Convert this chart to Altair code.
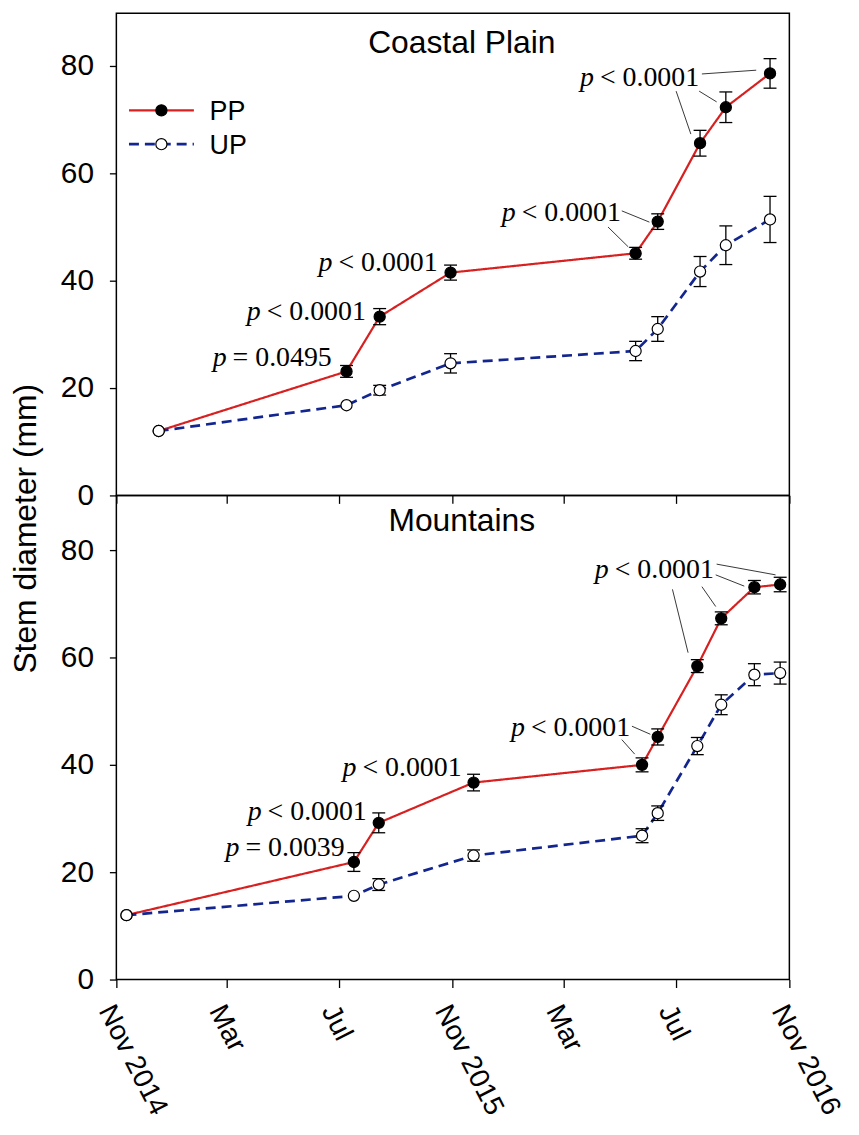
import json
import altair as alt
import pandas as pd

# ---------------- data ----------------
series_names = ["PP", "UP"]
line_colors = ["#d82020", "#13268f"]
line_widths = [2.2, 2.7]
point_fills = ["black", "white"]
dash_styles = [[1, 0], [10, 6]]

panel_titles = ["Coastal Plain", "Mountains"]
y_title = "Stem diameter (mm)"
y_ticks = [0, 20, 40, 60, 80]

tick_dates = ["2014-11-01", "2015-03-01", "2015-07-01", "2015-11-01",
              "2016-03-01", "2016-07-01", "2016-11-01"]
tick_labels = ["Nov 2014", "Mar", "Jul", "Nov 2015", "Mar", "Jul", "Nov 2016"]

# Coastal Plain
cp_dates = ["2014-12-17", "2015-07-09", "2015-08-14", "2015-10-30", "2016-05-18",
            "2016-06-11", "2016-07-27", "2016-08-24", "2016-10-11"]
cp_pp = [12.0, 23.1, 33.3, 41.5, 45.1, 51.0, 65.6, 72.3, 78.6]
cp_pp_se = [0.0, 1.1, 1.5, 1.4, 1.1, 1.45, 2.4, 2.85, 2.75]
cp_up = [12.0, 16.8, 19.6, 24.6, 26.9, 31.0, 41.7, 46.6, 51.4]
cp_up_se = [0.0, 0.0, 0.9, 1.8, 1.8, 2.3, 2.8, 3.6, 4.3]

cp_ann_dates = ["2015-03-04", "2015-04-10", "2015-06-27", "2016-01-12", "2016-04-06"]
cp_ann_vals = [24.1, 32.7, 41.8, 51.2, 76.2]
cp_ann_texts = ["= 0.0495", "< 0.0001", "< 0.0001", "< 0.0001", "< 0.0001"]

cp_lead_d1 = ["2016-05-03", "2016-04-18", "2016-07-29", "2016-07-26", "2016-07-01"]
cp_lead_v1 = [53.0, 50.0, 78.5, 75.3, 75.3]
cp_lead_d2 = ["2016-06-02", "2016-05-10", "2016-09-26", "2016-08-14", "2016-07-17"]
cp_lead_v2 = [50.9, 46.3, 79.2, 73.3, 67.3]

# Mountains
mt_dates = ["2014-11-12", "2015-07-17", "2015-08-13", "2015-11-24", "2016-05-25",
            "2016-06-11", "2016-07-24", "2016-08-19", "2016-09-24", "2016-10-22"]
mt_pp = [12.0, 21.9, 29.2, 36.7, 40.0, 45.2, 58.4, 67.3, 73.1, 73.6]
mt_pp_se = [0.0, 1.75, 1.85, 1.55, 1.3, 1.5, 1.2, 1.2, 1.25, 1.35]
mt_up = [12.0, 15.6, 17.7, 23.1, 26.8, 31.0, 43.5, 51.2, 56.8, 57.1]
mt_up_se = [0.0, 0.0, 1.1, 1.05, 1.3, 1.35, 1.6, 1.85, 2.05, 2.05]

mt_ann_dates = ["2015-03-18", "2015-04-11", "2015-07-23", "2016-01-22", "2016-04-22"]
mt_ann_vals = [23.0, 29.7, 38.0, 45.4, 74.8]
mt_ann_texts = ["= 0.0039", "< 0.0001", "< 0.0001", "< 0.0001", "< 0.0001"]

mt_lead_d1 = ["2016-05-14", "2016-05-03", "2016-08-14", "2016-08-13", "2016-07-29", "2016-06-27"]
mt_lead_v1 = [47.2, 44.7, 77.4, 75.4, 73.2, 72.7]
mt_lead_d2 = ["2016-06-03", "2016-05-17", "2016-10-17", "2016-09-13", "2016-08-13", "2016-07-14"]
mt_lead_v2 = [45.7, 42.0, 75.4, 73.3, 69.5, 60.9]

# ---------------- styling ----------------
SANS = "Liberation Sans"
SERIF = "Liberation Serif"
W = 677


def dt(s):
    t = pd.Timestamp(s)
    return alt.DateTime(year=t.year, month=t.month, date=t.day, utc=True)


tick_keys = [d[:7] for d in tick_dates]
label_expr = (f"{json.dumps(tick_labels)}[indexof({json.dumps(tick_keys)}, "
              f"utcFormat(datum.value, '%Y-%m'))]")

x_scale = alt.Scale(type="utc", domain=[dt(tick_dates[0]), dt(tick_dates[-1])])
color_scale = alt.Scale(domain=series_names, range=line_colors)
width_scale = alt.Scale(domain=series_names, range=line_widths)
dash_scale = alt.Scale(domain=series_names, range=dash_styles)
fill_scale = alt.Scale(domain=series_names, range=point_fills)


def make_panel(idx, dates, pp, pp_se, up, up_se, ann_d, ann_v, ann_t,
               l_d1, l_v1, l_d2, l_v2, height, y_max, title_y, is_bottom, with_legend):
    y_scale = alt.Scale(domain=[0, y_max], nice=False, zero=False)
    xaxis = alt.Axis(values=[dt(d) for d in tick_dates], labelExpr=label_expr,
                     labels=is_bottom, labelAngle=63, labelAlign="left",
                     labelBaseline="top", labelFont=SANS, labelFontSize=28,
                     labelColor="black", labelPadding=13, labelOffset=1,
                     labelOverlap=False, labelFlush=False, tickSize=8,
                     tickWidth=1.3, tickColor="black",
                     grid=False, domain=False, title=None)
    if is_bottom:
        yaxis = alt.Axis(values=y_ticks, grid=False, domain=False, tickSize=7,
                         tickWidth=1.3, tickColor="black", labelFont=SANS,
                         labelFontSize=30, labelColor="black", labelPadding=16,
                         title=y_title, titleFont=SANS, titleFontSize=32,
                         titleFontWeight="normal", titleColor="black",
                         titleX=-81, titleY=33, titleBaseline="alphabetic",
                         titleAngle=270, titleAlign="center")
    else:
        yaxis = alt.Axis(values=y_ticks, grid=False, domain=False, tickSize=7,
                         tickWidth=1.3, tickColor="black", labelFont=SANS,
                         labelFontSize=30, labelColor="black", labelPadding=16,
                         title=None)

    def X(f):
        return alt.X(f, type="temporal", scale=x_scale, axis=xaxis)

    def Y(f):
        return alt.Y(f, type="quantitative", scale=y_scale, axis=yaxis)

    rows = []
    for s, vals, ses in [(series_names[0], pp, pp_se), (series_names[1], up, up_se)]:
        for d, v, e in zip(dates, vals, ses):
            rows.append({"date": d, "series": s, "value": v, "lo": v - e, "hi": v + e, "se": e})
    df = pd.DataFrame(rows)
    err = df[df["se"] > 0]

    lines = alt.Chart(df).mark_line().encode(
        x=X("date"), y=Y("value"),
        color=alt.Color("series:N", scale=color_scale, legend=None),
        strokeWidth=alt.StrokeWidth("series:N", scale=width_scale, legend=None),
        strokeDash=alt.StrokeDash("series:N", scale=dash_scale, legend=None),
    )
    bars = alt.Chart(err).mark_rule(color="black", strokeWidth=1.3).encode(
        x=X("date"), y=Y("lo"), y2=alt.Y2("hi"))
    cap_lo = alt.Chart(err).mark_rule(color="black", strokeWidth=1.3,
                                      xOffset=-6.5, x2Offset=6.5).encode(
        x=X("date"), x2=alt.X2("date"), y=Y("lo"))
    cap_hi = alt.Chart(err).mark_rule(color="black", strokeWidth=1.3,
                                      xOffset=-6.5, x2Offset=6.5).encode(
        x=X("date"), x2=alt.X2("date"), y=Y("hi"))
    points = alt.Chart(df).mark_point(shape="circle", filled=True, size=125,
                                      stroke="black", strokeWidth=1.2, opacity=1).encode(
        x=X("date"), y=Y("value"),
        fill=alt.Fill("series:N", scale=fill_scale, legend=None))

    lead_df = pd.DataFrame({"d1": l_d1, "v1": l_v1, "d2": l_d2, "v2": l_v2})
    leaders = alt.Chart(lead_df).mark_rule(color="#222", strokeWidth=0.9).encode(
        x=X("d1"), x2=alt.X2("d2"), y=Y("v1"), y2=alt.Y2("v2"))

    ann_df = pd.DataFrame({"d": ann_d, "v": ann_v, "txt": ann_t})
    ann_p = alt.Chart(ann_df).mark_text(font=SERIF, fontSize=28, fontStyle="italic",
                                        align="right", baseline="alphabetic", dx=-3,
                                        text="p", color="black").encode(
        x=X("d"), y=Y("v"))
    ann_rest = alt.Chart(ann_df).mark_text(font=SERIF, fontSize=28, align="left",
                                           baseline="alphabetic", dx=3,
                                           color="black").encode(
        x=X("d"), y=Y("v"), text="txt:N")

    ttl = alt.Chart(pd.DataFrame({"t": [panel_titles[idx]]})).mark_text(
        font=SANS, fontSize=32, align="center", baseline="alphabetic", color="black"
    ).encode(x=alt.value(W / 2 + 9), y=alt.value(title_y), text="t:N")

    layers = [lines, bars, cap_lo, cap_hi, points, leaders, ann_p, ann_rest, ttl]

    if with_legend:
        for i, s in enumerate(series_names):
            ldf = pd.DataFrame({"series": [s]})
            ly = 97.7 + 34 * i
            layers.append(alt.Chart(ldf).mark_rule().encode(
                x=alt.value(12.7), x2=alt.value(78), y=alt.value(ly),
                color=alt.Color("series:N", scale=color_scale, legend=None),
                strokeWidth=alt.StrokeWidth("series:N", scale=width_scale, legend=None),
                strokeDash=alt.StrokeDash("series:N", scale=dash_scale, legend=None)))
            layers.append(alt.Chart(ldf).mark_point(shape="circle", filled=True, size=125,
                                                    stroke="black", strokeWidth=1.2,
                                                    opacity=1).encode(
                x=alt.value(45.3), y=alt.value(ly),
                fill=alt.Fill("series:N", scale=fill_scale, legend=None)))
            layers.append(alt.Chart(ldf).mark_text(font=SANS, fontSize=27, align="left",
                                                   baseline="alphabetic",
                                                   color="black").encode(
                x=alt.value(93.7), y=alt.value(ly + 9.8), text="series:N"))

    return alt.layer(*layers).properties(width=W, height=height)


top = make_panel(0, cp_dates, cp_pp, cp_pp_se, cp_up, cp_up_se,
                 cp_ann_dates, cp_ann_vals, cp_ann_texts,
                 cp_lead_d1, cp_lead_v1, cp_lead_d2, cp_lead_v2,
                 height=485, y_max=89.8, title_y=40, is_bottom=False, with_legend=True)
bottom = make_panel(1, mt_dates, mt_pp, mt_pp_se, mt_up, mt_up_se,
                    mt_ann_dates, mt_ann_vals, mt_ann_texts,
                    mt_lead_d1, mt_lead_v1, mt_lead_d2, mt_lead_v2,
                    height=487, y_max=90.2, title_y=36, is_bottom=True, with_legend=False)

chart = alt.vconcat(top, bottom, spacing=0, bounds="flush").properties(
    padding={"left": 1, "top": 1, "right": 5, "bottom": 2},
).configure_view(stroke="black", strokeWidth=1.5)

chart.save("out.html", embed_options={"renderer": "svg", "actions": False})
